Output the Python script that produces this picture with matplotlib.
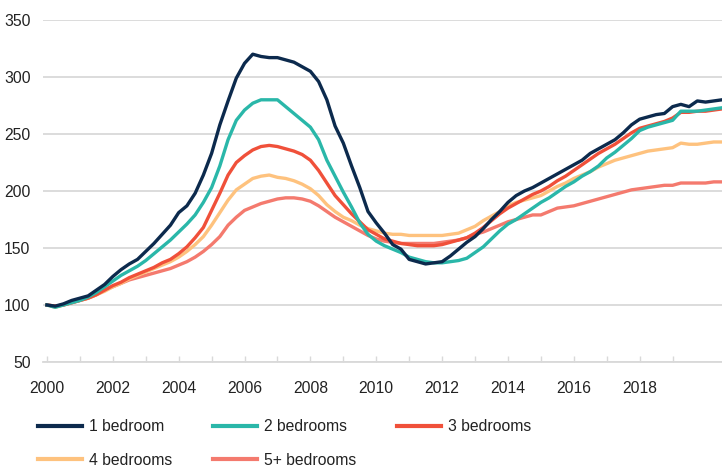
import numpy as np
import matplotlib
matplotlib.use("Agg")
import matplotlib.pyplot as plt

plt.rcParams['font.family'] = ['Liberation Sans', 'DejaVu Sans']

# quarterly index, 2000 Q1 .. 2020 Q3
years = 2000 + np.arange(83) * 0.25

bed1 = [100, 99, 101, 104, 106, 108, 113, 118, 125, 131, 136, 140, 147, 154, 162, 170,
        181, 187, 198, 214, 233, 258, 279, 299, 312, 320, 318, 317, 317, 315, 313, 309,
        305, 296, 280, 257, 242, 222, 203, 182, 172, 163, 153, 149, 140, 138, 136, 137,
        138, 143, 149, 155, 160, 167, 175, 182, 190, 196, 200, 203, 207, 211, 215, 219,
        223, 227, 233, 237, 241, 245, 251, 258, 263, 265, 267, 268, 274, 276, 274, 279,
        278, 279, 280]
bed2 = [100, 98, 100, 102, 104, 107, 111, 116, 121, 126, 130, 134, 139, 145, 151, 157,
        164, 171, 179, 190, 203, 222, 245, 262, 271, 277, 280, 280, 280, 274, 268, 262,
        256, 245, 227, 213, 199, 186, 172, 162, 156, 152, 149, 146, 142, 140, 138, 137,
        137, 138, 139, 141, 146, 151, 158, 165, 171, 175, 180, 185, 190, 194, 199, 204,
        208, 213, 217, 222, 229, 234, 240, 246, 253, 256, 258, 260, 262, 270, 270, 270,
        271, 272, 273]
bed3 = [100, 99, 100, 102, 104, 106, 109, 113, 117, 120, 124, 127, 130, 133, 137, 140,
        145, 151, 159, 168, 183, 198, 214, 225, 231, 236, 239, 240, 239, 237, 235, 232,
        227, 218, 207, 196, 188, 180, 173, 166, 162, 158, 156, 154, 153, 152, 152, 152,
        153, 155, 157, 159, 163, 168, 174, 180, 185, 189, 193, 197, 200, 204, 209, 213,
        218, 223, 228, 233, 237, 241, 246, 251, 255, 257, 259, 261, 264, 269, 269, 270,
        270, 271, 272]
bed4 = [100, 98, 100, 102, 104, 106, 109, 112, 116, 119, 123, 126, 129, 132, 135, 138,
        142, 147, 153, 160, 170, 181, 192, 201, 206, 211, 213, 214, 212, 211, 209, 206,
        202, 196, 188, 182, 177, 174, 170, 167, 165, 163, 162, 162, 161, 161, 161, 161,
        161, 162, 163, 166, 169, 174, 178, 182, 187, 190, 192, 194, 196, 200, 204, 207,
        211, 214, 217, 221, 224, 227, 229, 231, 233, 235, 236, 237, 238, 242, 241, 241,
        242, 243, 243]
bed5 = [100, 99, 100, 102, 104, 106, 109, 113, 116, 119, 122, 124, 126, 128, 130, 132,
        135, 138, 142, 147, 153, 160, 170, 177, 183, 186, 189, 191, 193, 194, 194, 193,
        191, 187, 182, 177, 173, 169, 165, 161, 158, 156, 155, 154, 154, 154, 154, 154,
        155, 156, 157, 159, 162, 164, 167, 170, 173, 175, 177, 179, 179, 182, 185, 186,
        187, 189, 191, 193, 195, 197, 199, 201, 202, 203, 204, 205, 205, 207, 207, 207,
        207, 208, 208]

labels = ['1 bedroom', '2 bedrooms', '3 bedrooms', '4 bedrooms', '5+ bedrooms']
colors = ['#0c2a4d', '#2ab7a9', '#f0503a', '#fec27e', '#f47a6e']
series = [bed1, bed2, bed3, bed4, bed5]

fig = plt.figure(figsize=(7.22, 4.67), dpi=100)
ax = fig.add_axes([43 / 722, 1 - 362 / 467, 1 - 43 / 722, (362 - 20) / 467])

# draw order: back to front like the reference
lines = {}
for i in [4, 3, 2, 1, 0]:
    ln, = ax.plot(years, series[i], color=colors[i], lw=2.4, label=labels[i],
                  solid_joinstyle='round', zorder=3 + (4 - i))
    lines[i] = ln

ax.set_xlim(1999.88, 2020.5)
ax.set_ylim(50, 350)
ax.set_yticks(range(50, 351, 50))
ax.set_xticks(range(2000, 2019, 2))
ax.set_xticks(range(2001, 2020, 2), minor=True)
ax.grid(axis='y', color='#d9d9d9', lw=1.3)
ax.set_axisbelow(True)
for s in ['top', 'right', 'left']:
    ax.spines[s].set_visible(False)
ax.spines['bottom'].set_color('#d9d9d9')
ax.spines['bottom'].set_linewidth(1.3)
ax.tick_params(axis='y', length=0, pad=9, labelsize=11.3, colors='#222222')
ax.tick_params(axis='x', which='both', direction='in', length=4, color='#d9d9d9',
               width=1, pad=14, labelsize=11.3, labelcolor='#222222')

# legend fills column by column -> rows read 1,2,3 / 4,5
order = [0, 3, 1, 4, 2]
leg = fig.legend([lines[k] for k in order], [labels[k] for k in order], ncol=3,
                 frameon=False, loc='upper left',
                 bbox_to_anchor=(24 / 722, 1 - 405 / 467),
                 fontsize=11.3, handlelength=2.8, handletextpad=0.45,
                 columnspacing=2.6, labelspacing=1.2)
for t in leg.get_texts():
    t.set_color('#222222')
for h in leg.get_lines():
    h.set_linewidth(3)

fig.savefig('out.png', dpi=100)
